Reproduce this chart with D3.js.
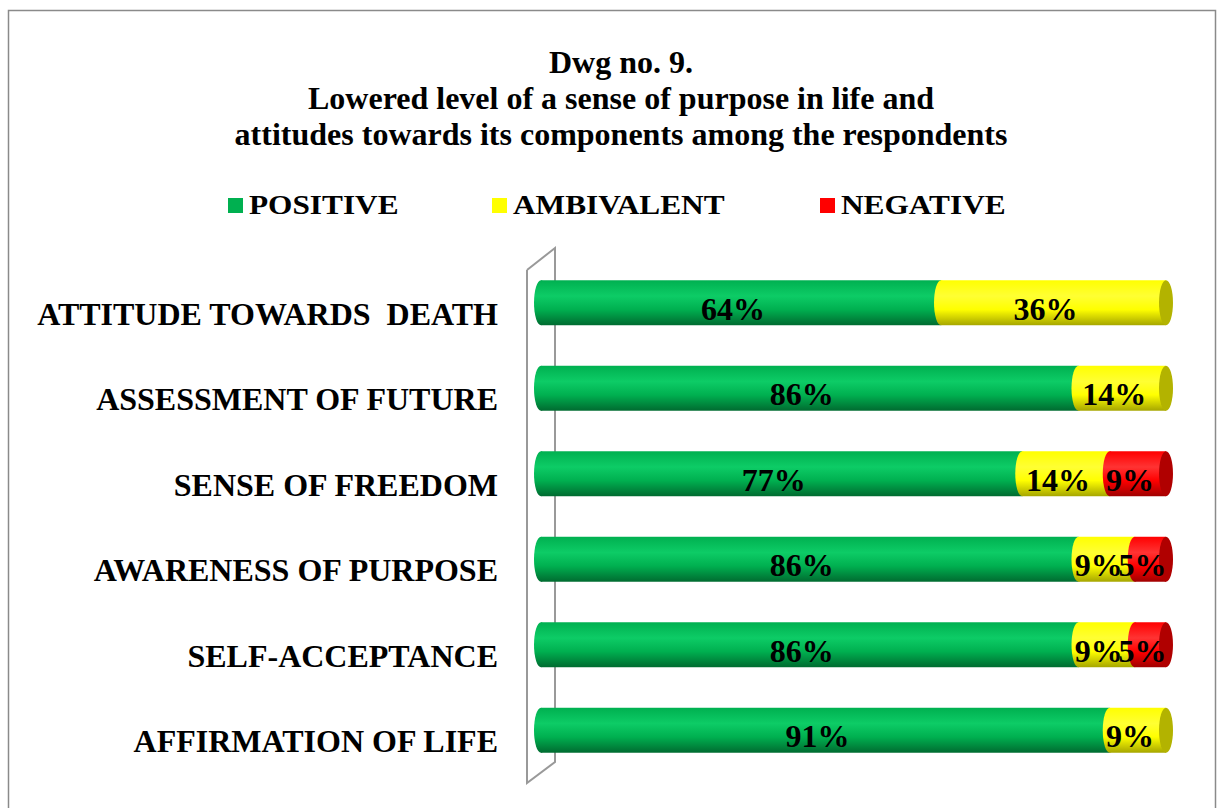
<!DOCTYPE html>
<html>
<head>
<meta charset="utf-8"/>
<script src="https://d3js.org/d3.v7.min.js"></script>
<title>Dwg no. 9</title>
<style>
  body { margin: 0; background: white; }
  text { font-family: "Liberation Serif", "Times New Roman", serif; font-weight: bold; }
</style>
</head>
<body>
<div id="chart"></div>
<script>
// data
var categories = ["ATTITUDE TOWARDS  DEATH", "ASSESSMENT OF FUTURE", "SENSE OF FREEDOM",
                  "AWARENESS OF PURPOSE", "SELF-ACCEPTANCE", "AFFIRMATION OF LIFE"];
var positive   = [64, 86, 77, 86, 86, 91];
var ambivalent = [36, 14, 14, 9, 9, 9];
var negative   = [0, 0, 9, 5, 5, 0];
var seriesNames = ["POSITIVE", "AMBIVALENT", "NEGATIVE"];
var titleLines = ["Dwg no. 9.", "Lowered level of a sense of purpose in life and",
                  "attitudes towards its components among the respondents"];

var W = 1217, H = 808;
var svg = d3.select("#chart").append("svg").attr("width", W).attr("height", H);

var colors = [
  {light: "#0dcc66", mid: "#00b050", dark: "#006b30", cap: "#008a3e"},
  {light: "#ffff33", mid: "#ffff00", dark: "#a6a600", cap: "#b3b300"},
  {light: "#ff3333", mid: "#ff0000", dark: "#a00000", cap: "#b00000"}
];

// gradients for the cylinders
var defs = svg.append("defs");
colors.forEach(function(c, i) {
  var g = defs.append("linearGradient").attr("id", "grad" + i)
    .attr("x1", 0).attr("y1", 0).attr("x2", 0).attr("y2", 1);
  g.append("stop").attr("offset", "0%").attr("stop-color", c.mid);
  g.append("stop").attr("offset", "35%").attr("stop-color", c.light);
  g.append("stop").attr("offset", "65%").attr("stop-color", c.mid);
  g.append("stop").attr("offset", "100%").attr("stop-color", c.dark);
});

// outer frame
svg.append("rect").attr("x", 8.5).attr("y", 10.5).attr("width", 1207).attr("height", 810)
  .attr("fill", "none").attr("stroke", "#8a8a8a").attr("stroke-width", 1.5);

// title
svg.selectAll(".title").data(titleLines).enter().append("text")
  .attr("class", "title")
  .attr("x", 621).attr("y", function(d, i) { return 73 + i * 36; })
  .attr("text-anchor", "middle").attr("font-size", 32)
  .text(function(d) { return d; });

// legend (text in the original is stretched sideways)
var legX = [228, 492, 820];
var leg = svg.selectAll(".leg").data(seriesNames).enter().append("g")
  .attr("transform", function(d, i) { return "translate(" + legX[i] + ",198)"; });
leg.append("rect").attr("width", 15).attr("height", 15)
  .attr("fill", function(d, i) { return colors[i].mid; });
leg.append("text").attr("transform", "translate(21,16) scale(1.16,1)").attr("font-size", 27)
  .text(function(d) { return d; });

var x = d3.scaleLinear().domain([0, 100]).range([541, 1166]);
var y = d3.scaleBand().domain(categories).range([260, 773])
  .paddingInner(0.474).paddingOuter(0.237);
var rx = 7, bh = y.bandwidth();

// 3D wall
var wall = [[527, 270], [555, 248], [555, 762], [527, 783], [527, 270]];
svg.append("path").attr("d", d3.line()(wall))
  .attr("fill", "none").attr("stroke", "#999").attr("stroke-width", 2);

// category labels
svg.selectAll(".cat").data(categories).enter().append("text")
  .attr("x", 498).attr("y", function(d) { return y(d) + bh / 2 + 22; })
  .attr("text-anchor", "end").attr("font-size", 32)
  .style("white-space", "pre")
  .text(function(d) { return d; });

// bars
var rows = categories.map(function(c, i) {
  var vals = [positive[i], ambivalent[i], negative[i]];
  var start = 0, segs = [];
  vals.forEach(function(v, k) {
    if (v > 0) { segs.push({k: k, v: v, s: start, e: start + v}); }
    start += v;
  });
  return {cat: c, segs: segs, total: start};
});

var row = svg.selectAll(".row").data(rows).enter().append("g")
  .attr("transform", function(d) { return "translate(0," + y(d.cat) + ")"; });

row.each(function(d) {
  var g = d3.select(this);
  d.segs.forEach(function(s) {
    g.append("ellipse").attr("cx", x(s.s)).attr("cy", bh / 2).attr("rx", rx).attr("ry", bh / 2)
      .attr("fill", "url(#grad" + s.k + ")");
    g.append("rect").attr("x", x(s.s)).attr("y", 0).attr("width", x(s.e) - x(s.s)).attr("height", bh)
      .attr("fill", "url(#grad" + s.k + ")");
  });
  var last = d.segs[d.segs.length - 1];
  g.append("ellipse").attr("cx", x(d.total)).attr("cy", bh / 2).attr("rx", rx).attr("ry", bh / 2)
    .attr("fill", colors[last.k].cap);
  d.segs.forEach(function(s) {
    g.append("text").attr("x", x((s.s + s.e) / 2) - 8).attr("y", bh / 2 + 17)
      .attr("text-anchor", "middle").attr("font-size", 32)
      .text(s.v + "%");
  });
});
</script>
</body>
</html>
